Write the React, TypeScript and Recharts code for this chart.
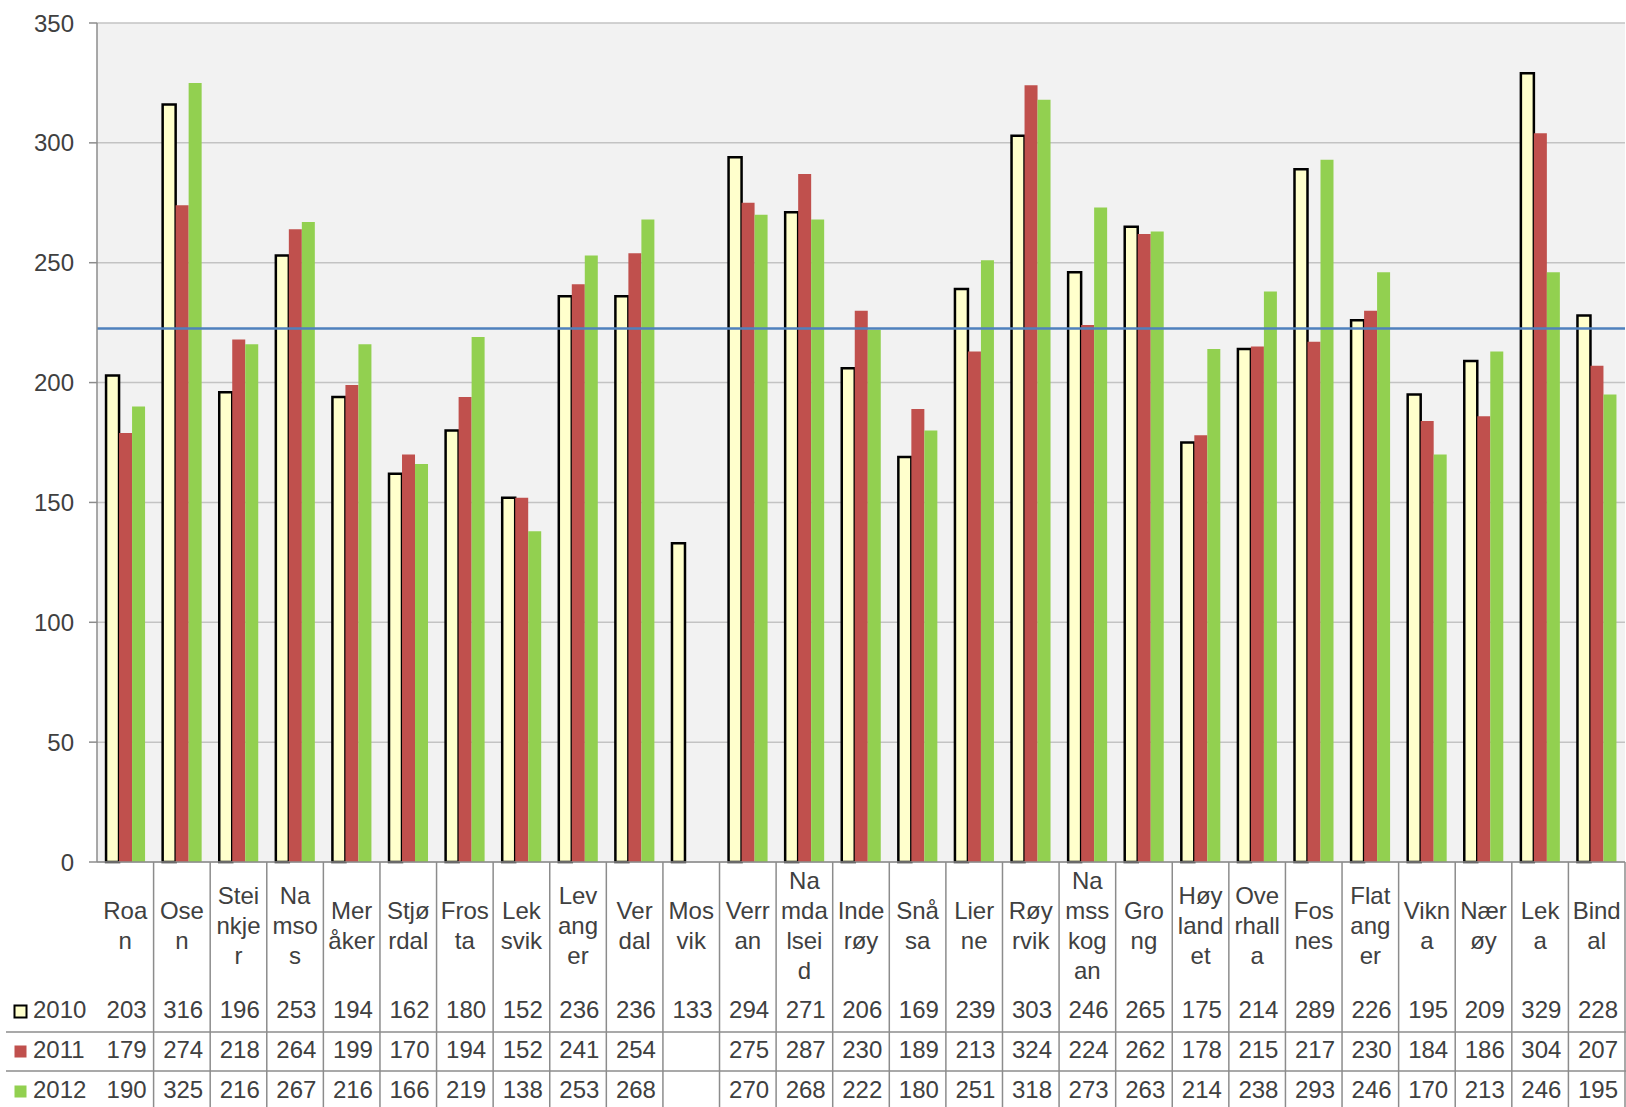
import { BarChart, Bar, XAxis, YAxis, CartesianGrid, ReferenceLine } from 'recharts';

// municipalities, in table order
const kommuner = [
  'Roan', 'Osen', 'Steinkjer', 'Namsos', 'Meråker', 'Stjørdal', 'Frosta', 'Leksvik', 'Levanger',
  'Verdal', 'Mosvik', 'Verran', 'Namdalseid', 'Inderøy', 'Snåsa', 'Lierne', 'Røyrvik', 'Namsskogan',
  'Grong', 'Høylandet', 'Overhalla', 'Fosnes', 'Flatanger', 'Vikna', 'Nærøy', 'Leka', 'Bindal',
];

// labels as they wrap in the data table cells
const labelLines = [
  ['Roa', 'n'], ['Ose', 'n'], ['Stei', 'nkje', 'r'], ['Na', 'mso', 's'], ['Mer', 'åker'],
  ['Stjø', 'rdal'], ['Fros', 'ta'], ['Lek', 'svik'], ['Lev', 'ang', 'er'], ['Ver', 'dal'],
  ['Mos', 'vik'], ['Verr', 'an'], ['Na', 'mda', 'lsei', 'd'], ['Inde', 'røy'], ['Snå', 'sa'],
  ['Lier', 'ne'], ['Røy', 'rvik'], ['Na', 'mss', 'kog', 'an'], ['Gro', 'ng'], ['Høy', 'land', 'et'],
  ['Ove', 'rhall', 'a'], ['Fos', 'nes'], ['Flat', 'ang', 'er'], ['Vikn', 'a'], ['Nær', 'øy'],
  ['Lek', 'a'], ['Bind', 'al'],
];

const v2010 = [203, 316, 196, 253, 194, 162, 180, 152, 236, 236, 133, 294, 271, 206, 169, 239, 303, 246, 265, 175, 214, 289, 226, 195, 209, 329, 228];
const v2011 = [179, 274, 218, 264, 199, 170, 194, 152, 241, 254, null, 275, 287, 230, 189, 213, 324, 224, 262, 178, 215, 217, 230, 184, 186, 304, 207];
const v2012 = [190, 325, 216, 267, 216, 166, 219, 138, 253, 268, null, 270, 268, 222, 180, 251, 318, 273, 263, 214, 238, 293, 246, 170, 213, 246, 195];

const years = ['2010', '2011', '2012'];
const yTicks = [0, 50, 100, 150, 200, 250, 300, 350];
const average = 222.6;

const data = kommuner.map((name, i) => ({
  name,
  y2010: v2010[i],
  y2011: v2011[i],
  y2012: v2012[i],
}));

const seriesValues = [v2010, v2011, v2012];
const keyColors = ['#FFFFCC', '#C0504D', '#92D050'];

const CHART_W = 1626;
const CHART_H = 1107;
const MARGIN = { top: 23, right: 1, bottom: 0, left: 0 };
const Y_W = 97;
const X_H = 245;
const AXIS_Y = CHART_H - MARGIN.bottom - X_H;
const CELL_W = (CHART_W - MARGIN.left - MARGIN.right - Y_W) / kommuner.length;
const LABEL_MID = 934;
const LINE_H = 30;
const ROW_Y = [1018, 1058, 1098];
const ROW_LINES = [1032, 1071];
const TEXT = '#404040';
const RULE = '#8c8c8c';

function TableTick(props: any) {
  const { x, payload } = props;
  const i = payload.index;
  const right = x + CELL_W / 2;
  const lines = labelLines[i];
  const n = lines.length;
  return (
    <g>
      <line x1={right} x2={right} y1={AXIS_Y} y2={CHART_H} stroke={RULE} strokeWidth={1.5} />
      {lines.map((t, j) => (
        <text key={j} x={x} y={LABEL_MID + (j - (n - 1) / 2) * LINE_H} textAnchor="middle" fill={TEXT} fontSize={24}>
          {t}
        </text>
      ))}
      {seriesValues.map((vals, r) =>
        vals[i] == null ? null : (
          <text key={r} x={right - 7} y={ROW_Y[r]} textAnchor="end" fill={TEXT} fontSize={24}>
            {vals[i]}
          </text>
        )
      )}
      {i === 0 && (
        <g>
          {ROW_LINES.map((ly) => (
            <line key={ly} x1={6} x2={CHART_W} y1={ly} y2={ly} stroke={RULE} strokeWidth={1.5} />
          ))}
          {years.map((yr, r) => (
            <g key={yr}>
              <rect
                x={14.5}
                y={ROW_Y[r] - 12.5}
                width={12}
                height={12}
                fill={keyColors[r]}
                stroke={r === 0 ? '#000' : 'none'}
                strokeWidth={2}
              />
              <text x={33} y={ROW_Y[r]} fill={TEXT} fontSize={24}>
                {yr}
              </text>
            </g>
          ))}
        </g>
      )}
    </g>
  );
}

export default function App() {
  return (
    <div style={{ position: 'absolute', left: 0, top: 0, fontFamily: '"Liberation Sans", Arial, sans-serif' }}>
      <BarChart width={CHART_W} height={CHART_H} data={data} margin={MARGIN} barCategoryGap="16%" barGap={0}>
        <CartesianGrid vertical={false} stroke="#c3c3c3" strokeWidth={1.5} fill="#F2F2F2" />
        <XAxis
          dataKey="name"
          height={X_H}
          interval={0}
          tickLine={false}
          axisLine={{ stroke: RULE, strokeWidth: 1.5 }}
          tick={(p: any) => <TableTick {...p} />}
        />
        <YAxis
          width={Y_W}
          domain={[0, 350]}
          ticks={yTicks}
          tickSize={8}
          tickMargin={15}
          tick={{ fill: TEXT, fontSize: 24 }}
          tickLine={{ stroke: RULE, strokeWidth: 1.5 }}
          axisLine={{ stroke: RULE, strokeWidth: 1.5 }}
        />
        <Bar dataKey="y2010" name="2010" fill="#FFFFCC" stroke="#000" strokeWidth={2.5} isAnimationActive={false} />
        <Bar dataKey="y2011" name="2011" fill="#C0504D" isAnimationActive={false} />
        <Bar dataKey="y2012" name="2012" fill="#92D050" isAnimationActive={false} />
        <ReferenceLine y={average} stroke="#4F81BD" strokeWidth={2.5} />
      </BarChart>
    </div>
  );
}
